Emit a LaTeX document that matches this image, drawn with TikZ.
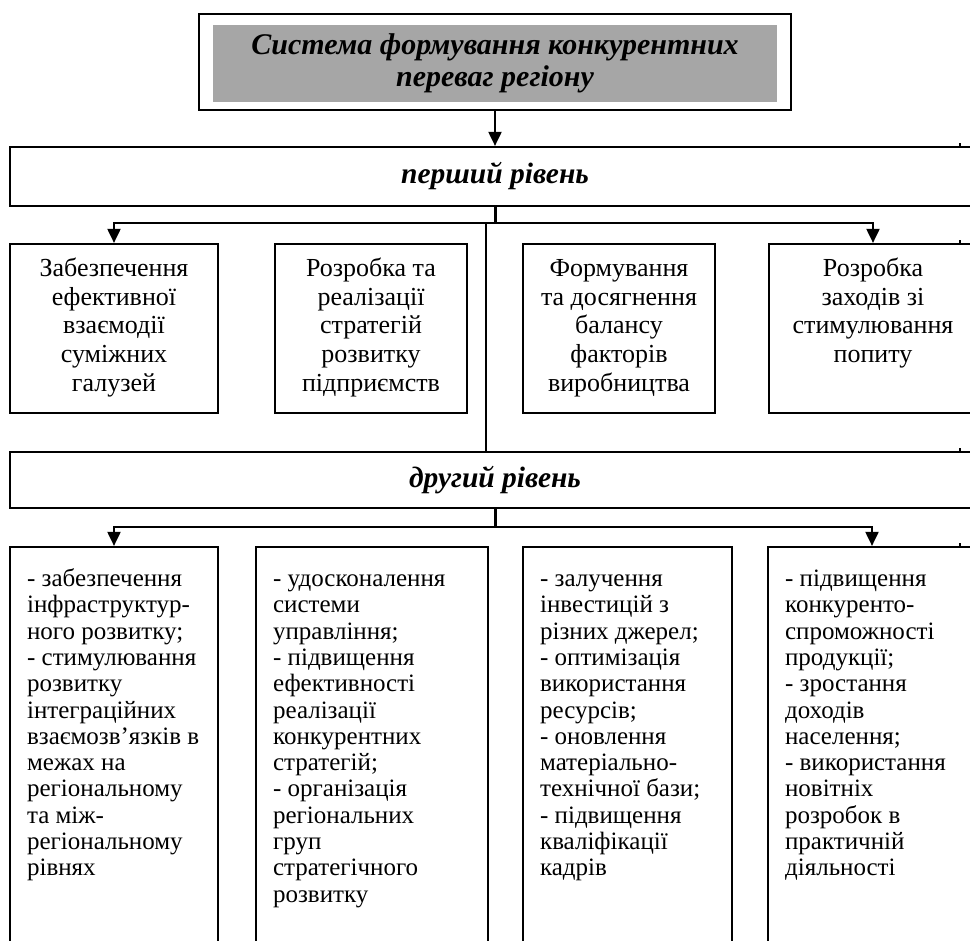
\documentclass[tikz,border=0pt]{standalone}
\usepackage{fontspec}
\setmainfont{Liberation Serif}
\usetikzlibrary{positioning}
\usetikzlibrary{arrows.meta}

\begin{document}
\begin{tikzpicture}[x=1pt, y=-1pt, >={Triangle[width=13pt,length=14pt]},
    frame/.style={draw, line width=2.2pt, inner sep=0pt},
    level/.style={frame, minimum width=970pt, font=\fontsize{29.5}{32}\selectfont\bfseries\itshape},
    upper/.style={inner sep=0pt, align=center, font=\fontsize{26}{28.8}\selectfont},
    lower/.style={inner sep=0pt, align=left, font=\fontsize{25}{26.3}\selectfont},
    link/.style={->, line width=2pt},
    stub/.style={line width=3pt}]
    \useasboundingbox (0,0) rectangle (970,941);
    \clip (0,0) rectangle (970,941);

    % title
    \node[frame, minimum width=592pt, minimum height=96pt] (title) at (495,62) {};
    \node[fill=black!35, inner sep=0pt, minimum width=564pt, minimum height=77pt, align=center,
          font=\fontsize{30}{32}\selectfont\bfseries\itshape] (titlefill) at (495,63.5)
          {Система формування конкурентних\\переваг регіону};

    % levels
    \node[level, minimum height=59pt] (lvl1) at (495,176.5) {перший рівень};
    \node[level, minimum height=56pt] (lvl2) at (495,480) {другий рівень};

    % first level
    \node[frame, minimum width=208pt, minimum height=169pt] (f1) at (114,328.5) {};
    \node[frame, minimum width=192pt, minimum height=169pt] (f2) at (371,328.5) {};
    \node[frame, minimum width=192pt, minimum height=169pt] (f3) at (619,328.5) {};
    \node[frame, minimum width=208pt, minimum height=169pt] (f4) at (873,328.5) {};
    \node[upper, below=13pt of f1.north] (f1t) {\strut Забезпечення\\ефективної\\взаємодії\\суміжних\\галузей};
    \node[upper, below=13pt of f2.north] (f2t) {\strut Розробка та\\реалізації\\стратегій\\розвитку\\підприємств};
    \node[upper, below=13pt of f3.north] (f3t) {\strut Формування\\та досягнення\\балансу\\факторів\\виробництва};
    \node[upper, below=13pt of f4.north] (f4t) {\strut Розробка\\заходів зі\\стимулювання\\попиту};

    % second level
    \node[frame, minimum width=208pt, minimum height=433pt] (s1) at (114,763.5) {};
    \node[frame, minimum width=232pt, minimum height=433pt] (s2) at (372,763.5) {};
    \node[frame, minimum width=209pt, minimum height=433pt] (s3) at (627.5,763.5) {};
    \node[frame, minimum width=208pt, minimum height=433pt] (s4) at (872,763.5) {};
    \node[lower, below right=22pt and 18pt of s1.north west] (s1t) {\strut - забезпечення\\інфраструктур-\\ного розвитку;\\- стимулювання\\розвитку\\інтеграційних\\взаємозв’язків в\\межах на\\регіональному\\та між-\\регіональному\\рівнях};
    \node[lower, below right=22pt and 18pt of s2.north west] (s2t) {\strut - удосконалення\\системи\\управління;\\- підвищення\\ефективності\\реалізації\\конкурентних\\стратегій;\\- організація\\регіональних\\груп\\стратегічного\\розвитку};
    \node[lower, below right=22pt and 18pt of s3.north west] (s3t) {\strut - залучення\\інвестицій з\\різних джерел;\\- оптимізація\\використання\\ресурсів;\\- оновлення\\матеріально-\\технічної бази;\\- підвищення\\кваліфікації\\кадрів};
    \node[lower, below right=22pt and 18pt of s4.north west] (s4t) {\strut - підвищення\\конкуренто-\\спроможності\\продукції;\\- зростання\\доходів\\населення;\\- використання\\новітніх\\розробок в\\практичній\\діяльності};

    % connectors
    \coordinate (b1) at (495,223);
    \coordinate (b2) at (495,527);
    \coordinate (split) at (486,223);
    \draw[link] (title) -- (lvl1);
    \draw[stub] (lvl1.south) -- (b1);
    \draw[link] (b1) -| (f1.north);
    \draw[link] (b1) -| (f4.north);
    \draw[line width=1.3pt] (split) -- (split |- lvl2.north);
    \draw[stub] (lvl2.south) -- (b2);
    \draw[link] (b2) -| (s1.north);
    \draw[link] (b2) -| (s4.north);

    % ticks on the right edge
    \foreach \y in {147,244,452,547}
        \draw[line width=1.5pt] (960,\y) -- ++(0,-4);
\end{tikzpicture}
\end{document}
